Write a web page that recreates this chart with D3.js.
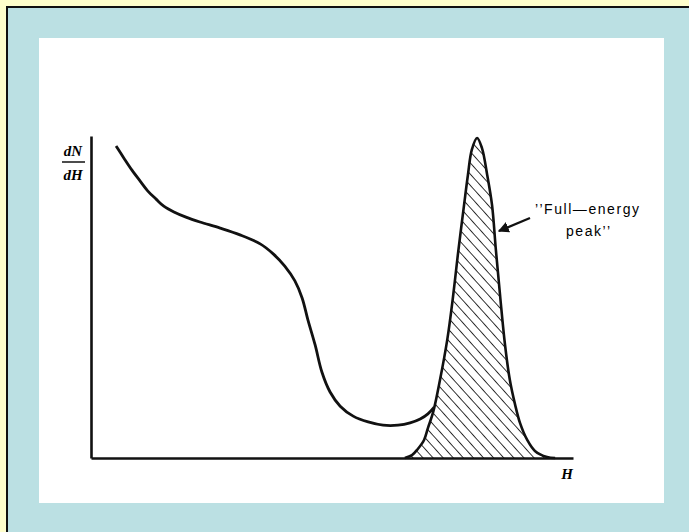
<!DOCTYPE html>
<html>
<head>
<meta charset="utf-8">
<script src="https://cdn.jsdelivr.net/npm/d3@7"></script>
<style>
  html, body { margin: 0; padding: 0; background: #FFFFCC; }
  svg { display: block; }
</style>
</head>
<body>
<svg id="chart"></svg>
<script>

// continuum (Compton part) - H and dN/dH in arbitrary units
var contH = [5.2, 6.8, 8.5, 10.2, 11.8, 13.5, 15.1, 17.2, 19.7, 22.6, 26.8, 30.9, 35.1, 37.8, 40.2, 42.3, 43.8, 45.0, 46.5, 47.9, 49.6, 51.7, 54.4, 57.5, 60.6, 63.7, 66.2, 68.3, 69.9, 71.2];
var contY = [96.9, 93.2, 89.4, 86.0, 82.9, 80.4, 78.2, 76.4, 74.8, 73.3, 71.4, 69.3, 66.5, 63.4, 59.6, 55.0, 49.7, 42.9, 35.1, 26.7, 20.5, 16.1, 13.0, 11.2, 10.2, 10.2, 10.9, 12.1, 13.7, 15.8];

// full-energy peak
var peakH = [65.1, 66.6, 67.8, 69.1, 69.9, 71.0, 72.4, 73.9, 75.1, 76.1, 77.4, 78.2, 79.0, 80.1, 81.1, 82.2, 83.2, 84.0, 84.9, 85.9, 86.9, 88.0, 89.0, 90.5, 92.1, 94.6, 96.3];
var peakY = [0, 0.9, 2.8, 5.6, 9.3, 14.3, 24.2, 36.6, 50.0, 63.0, 78.6, 87.9, 95.7, 99.4, 96.3, 87.9, 78.6, 64.6, 50.0, 35.1, 24.2, 16.5, 10.9, 5.6, 2.2, 0.3, 0];

var yLabelTop = "dN";
var yLabelBottom = "dH";
var xLabel = "H";
var noteLines = ["\u2019\u2019Full\u2014energy", "peak\u2019\u2019"];

var svgWidth = 689;
var svgHeight = 532;

var svg = d3.select("#chart")
    .attr("width", svgWidth)
    .attr("height", svgHeight);

// frame
svg.append("rect")
    .attr("x", 7).attr("y", 7)
    .attr("width", 720).attr("height", 560)
    .attr("fill", "#BBE0E3")
    .attr("stroke", "#111")
    .attr("stroke-width", 2);

svg.append("rect")
    .attr("x", 39).attr("y", 38)
    .attr("width", 625).attr("height", 465)
    .attr("fill", "#fff");

var xScale = d3.scaleLinear().domain([0, 100]).range([91, 573]);
var yScale = d3.scaleLinear().domain([0, 100]).range([458, 136]);

// hatch pattern
var defs = svg.append("defs");
defs.append("pattern")
    .attr("id", "hatch")
    .attr("patternUnits", "userSpaceOnUse")
    .attr("width", 7.5).attr("height", 7.5)
    .attr("patternTransform", "rotate(-42)")
  .append("line")
    .attr("x1", 0).attr("y1", 0)
    .attr("x2", 0).attr("y2", 7.5)
    .attr("stroke", "#111")
    .attr("stroke-width", 1.7);

defs.append("marker")
    .attr("id", "arrow")
    .attr("viewBox", "0 0 10 10")
    .attr("refX", 9).attr("refY", 5)
    .attr("markerWidth", 5).attr("markerHeight", 5)
    .attr("orient", "auto")
  .append("path")
    .attr("d", "M0,0 L10,5 L0,10 z")
    .attr("fill", "#111");

var peak = peakH.map(function(h, i) { return [h, peakY[i]]; });
var cont = contH.map(function(h, i) { return [h, contY[i]]; });

var smooth = d3.curveCatmullRom.alpha(0.5);

var area = d3.area()
    .x(function(d) { return xScale(d[0]); })
    .y0(yScale(0))
    .y1(function(d) { return yScale(d[1]); })
    .curve(smooth);

var line = d3.line()
    .x(function(d) { return xScale(d[0]); })
    .y(function(d) { return yScale(d[1]); })
    .curve(smooth);

svg.append("path")
    .datum(peak)
    .attr("d", area)
    .attr("fill", "url(#hatch)");

svg.append("path")
    .datum(peak)
    .attr("d", line)
    .attr("fill", "none")
    .attr("stroke", "#111")
    .attr("stroke-width", 2.6);

svg.append("path")
    .datum(cont)
    .attr("d", line)
    .attr("fill", "none")
    .attr("stroke", "#111")
    .attr("stroke-width", 2.8);

// axes (plain lines, no ticks)
var xAxis = d3.axisBottom(xScale).tickValues([]).tickSizeOuter(0);
var yAxis = d3.axisLeft(yScale).tickValues([]).tickSizeOuter(0);

svg.append("g")
    .attr("transform", "translate(0," + yScale(0) + ")")
    .call(xAxis)
    .select(".domain")
    .attr("stroke", "#111").attr("stroke-width", 2.6);

svg.append("g")
    .attr("transform", "translate(" + xScale(0) + ",0)")
    .call(yAxis)
    .select(".domain")
    .attr("stroke", "#111").attr("stroke-width", 2.6);

// axis labels
var serif = "'Liberation Serif', 'DejaVu Serif', serif";
svg.append("text")
    .attr("x", 73).attr("y", 156)
    .attr("text-anchor", "middle")
    .attr("font-family", serif).attr("font-style", "italic").attr("font-weight", "bold")
    .attr("font-size", 15)
    .text(yLabelTop);
svg.append("line")
    .attr("x1", 62).attr("x2", 85)
    .attr("y1", 162).attr("y2", 162)
    .attr("stroke", "#111").attr("stroke-width", 1.5);
svg.append("text")
    .attr("x", 73).attr("y", 180)
    .attr("text-anchor", "middle")
    .attr("font-family", serif).attr("font-style", "italic").attr("font-weight", "bold")
    .attr("font-size", 15)
    .text(yLabelBottom);

svg.append("text")
    .attr("x", 567).attr("y", 479)
    .attr("text-anchor", "middle")
    .attr("font-family", serif).attr("font-style", "italic").attr("font-weight", "bold")
    .attr("font-size", 15)
    .text(xLabel);

// annotation
var sans = "'Liberation Sans', Arial, sans-serif";
svg.append("text")
    .attr("x", 587).attr("y", 214)
    .attr("text-anchor", "middle")
    .attr("font-family", sans).attr("font-size", 14)
    .attr("textLength", 104).attr("lengthAdjust", "spacing")
    .text(noteLines[0]);
svg.append("text")
    .attr("x", 588).attr("y", 236)
    .attr("text-anchor", "middle")
    .attr("font-family", sans).attr("font-size", 14)
    .attr("textLength", 44).attr("lengthAdjust", "spacing")
    .text(noteLines[1]);

svg.append("line")
    .attr("x1", 530).attr("y1", 218)
    .attr("x2", xScale(84.0) + 3).attr("y2", 231)
    .attr("stroke", "#111").attr("stroke-width", 2.2)
    .attr("marker-end", "url(#arrow)");

</script>
</body>
</html>
